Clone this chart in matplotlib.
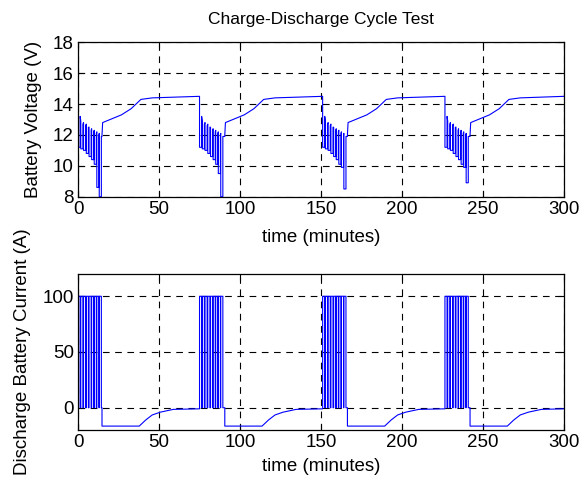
import numpy as np
import matplotlib.pyplot as plt

plt.rcParams['font.family'] = ['Liberation Sans', 'DejaVu Sans']

# discharge / charge cycles (minutes)
dis_start = [0, 75, 151, 226.5]
dis_end = [14.8, 90.6, 166.3, 242.0]

# pulse on-times relative to discharge start, and on length
pulse_on = [0.0, 1.7, 3.4, 5.1, 6.8, 8.4, 10.0, 11.6, 13.1]
pulse_len = 1.3

# voltage levels at rest / under load for each pulse
v_rest = [13.4, 12.9, 12.8, 12.7, 12.5, 12.4, 12.3, 12.2, 12.1]
v_load = [11.2, 11.1, 11.0, 10.8, 10.6, 10.4, 10.1, 9.8, 9.6]
v_low2 = [8.6, 9.5, 9.9, 9.9]   # second to last pulse, per cycle
v_low1 = [8.0, 8.0, 8.5, 8.9]   # last pulse, per cycle

# charging voltage after a discharge (time after discharge end)
chg_dt = [0.0, 0.4, 12, 18, 24, 31, 45, 58]
chg_v = [12.0, 12.8, 13.3, 13.7, 14.3, 14.4, 14.45, 14.5]

# charging current after a discharge
chg_i_dt = [0.0, 23, 27, 31, 36, 44, 58]
chg_i = [-16.5, -16.5, -11, -6.5, -4, -1.5, -1]
i_pulse = 100
i_rest = 0

t_end = 300

t_v, v = [], []
t_i, cur = [], []
for k in range(len(dis_start)):
    s, e = dis_start[k], dis_end[k]
    for j, on in enumerate(pulse_on):
        lo = v_load[j]
        if j == len(pulse_on) - 2:
            lo = v_low2[k]
        if j == len(pulse_on) - 1:
            lo = v_low1[k]
        t0, t1 = s + on, s + on + pulse_len
        t_v += [t0, t0, t1, t1]
        v += [v_rest[j], lo, lo, v_rest[j] - 0.2]
        t_i += [t0, t0, t1, t1]
        cur += [i_rest, i_pulse, i_pulse, i_rest]
    t_v += [e]
    v += [v_rest[-1] - 0.2]
    t_i += [e, e]
    cur += [i_rest, chg_i[0]]
    nxt = dis_start[k + 1] if k + 1 < len(dis_start) else t_end
    for dt, vv in zip(chg_dt, chg_v):
        if e + dt <= nxt:
            t_v.append(e + dt)
            v.append(vv)
    t_v.append(nxt)
    v.append(chg_v[-1])
    for dt, ii in zip(chg_i_dt, chg_i):
        if e + dt <= nxt:
            t_i.append(e + dt)
            cur.append(ii)
    t_i.append(nxt)
    cur.append(chg_i[-1])

fs = 13.5

fig = plt.figure(figsize=(5.88, 4.79), dpi=100)
ax1 = fig.add_axes([0.1327, 0.5894, 0.8265, 0.3223])
ax2 = fig.add_axes([0.1327, 0.1023, 0.8265, 0.3257])

ax1.plot(t_v, v, color='blue', lw=0.8)
ax1.set_xlim(0, 300)
ax1.set_ylim(8, 18)
ax1.set_yticks([8, 10, 12, 14, 16, 18])
ax1.set_ylabel('Battery Voltage (V)', fontsize=fs, labelpad=8)
ax1.set_xlabel('time (minutes)', fontsize=fs, labelpad=8)
ax1.set_title('Charge-Discharge Cycle Test', fontsize=fs - 1, pad=13)

ax2.plot(t_i, cur, color='blue', lw=0.8)
ax2.set_xlim(0, 300)
ax2.set_ylim(-20, 120)
ax2.set_yticks([0, 50, 100])
ax2.set_ylabel('Discharge Battery Current (A)', fontsize=fs, labelpad=8)
ax2.set_xlabel('time (minutes)', fontsize=fs, labelpad=5)

for ax in (ax1, ax2):
    ax.set_xticks([0, 50, 100, 150, 200, 250, 300])
    ax.grid(True, color='black', linestyle=(0, (6, 5)), linewidth=0.8)
    ax.tick_params(direction='in', top=True, right=True, labelsize=fs, length=4, pad=3)
    for sp in ax.spines.values():
        sp.set_linewidth(0.9)

fig.savefig('out.png', dpi=100)
